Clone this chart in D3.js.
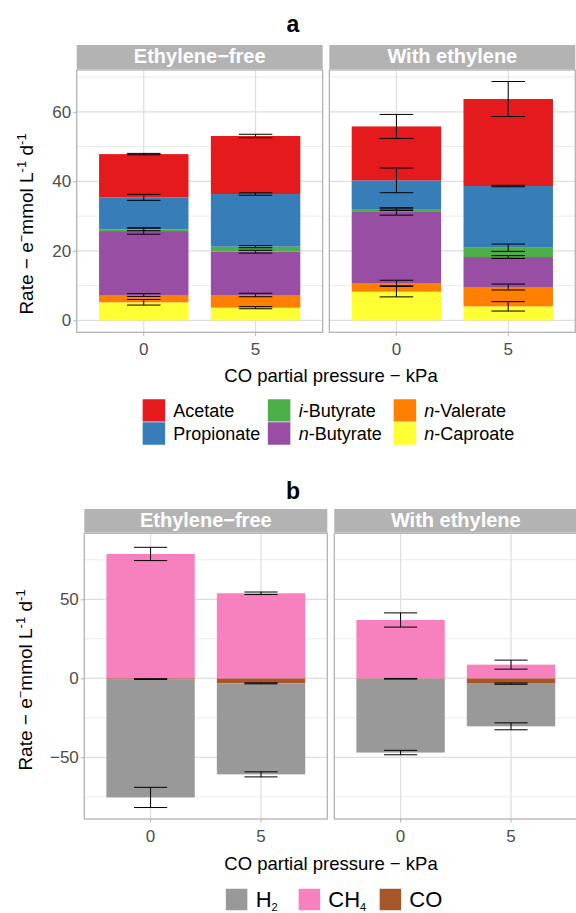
<!DOCTYPE html>
<html>
<head>
<meta charset="utf-8">
<script src="https://cdn.jsdelivr.net/npm/d3@7"></script>
<style>
    body { margin: 0; background: #fff; }
    svg text { font-family: "Liberation Sans", Arial, sans-serif; }
</style>
</head>
<body>
<svg id="chart" width="576" height="913"></svg>
<script>
    // facets and x categories
    let conditions = ["Ethylene−free", "With ethylene"];
    let pressures = ["0", "5"];

    // panel a, order of values: free 0, free 5, ethylene 0, ethylene 5
    let caproate = [5.19, 3.64, 8.25, 4.03];
    let valerate = [2.10, 3.65, 2.49, 5.56];
    let nButyrate = [18.4, 12.47, 20.43, 8.63];
    let iButyrate = [0.5, 1.44, 0.86, 2.68];
    let propionate = [9.2, 15.15, 8.25, 17.75];
    let acetate = [12.45, 16.7, 15.52, 25.04];

    let caproateSd = [0.8, 0.3, 1.5, 1.35];
    let valerateSd = [0.4, 0.5, 0.8, 0.85];
    let nButyrateSd = [0.9, 0.4, 0.9, 0.4];
    let iButyrateSd = [0.4, 0.3, 0.4, 1.05];
    let propionateSd = [0.86, 0.35, 3.55, 0.2];
    let acetateSd = [0.2, 0.5, 3.45, 5.04];

    // panel b
    let h2 = [-74.9, -57.6, -46.7, -27.0];
    let ch4 = [78.7, 53.8, 36.9, 8.65];
    let co = [-0.5, -3.2, -0.3, -3.4];
    let h2Sd = [6.4, 1.6, 1.4, 2.2];
    let ch4Sd = [4.2, 0.8, 4.5, 2.85];
    let coSd = [0.2, 0.3, 0.2, 0.4];

    let acidKeys = ["n-Caproate", "n-Valerate", "n-Butyrate", "i-Butyrate", "Propionate", "Acetate"];
    let acidColors = ["#FFFF33", "#FF7F00", "#984EA3", "#4DAF4A", "#377EB8", "#E41A1C"];
    let acidLegend = ["Acetate", "Propionate", "i-Butyrate", "n-Butyrate", "n-Valerate", "n-Caproate"];

    let gasKeys = ["CO", "H2", "CH4"];
    let gasColors = ["#A65628", "#999999", "#F781BF"];
    let gasLegend = ["H2", "CH4", "CO"];

    let acidTicks = [0, 20, 40, 60];
    let acidMinor = [10, 30, 50, 70];
    let gasTicks = [-50, 0, 50];
    let gasMinor = [-75, -25, 25, 75];

    let svg = d3.select("#chart");

    function makeRows(keys, means, sds) {
        return d3.range(4).map(i => {
            let row = {condition: conditions[Math.floor(i / 2)], pressure: pressures[i % 2], sd: {}};
            keys.forEach((k, j) => {
                row[k] = means[j][i];
                row.sd[k] = sds[j][i];
            });
            return row;
        });
    }

    function drawPanel(p) {
        let panelW = (p.right - p.left - p.gap) / 2;
        let y = d3.scaleLinear().domain(p.yDomain).range([p.bottom, p.top]);
        let x = d3.scaleBand().domain(pressures).range([0, panelW]).padding(0.2);
        let color = d3.scaleOrdinal().domain(p.keys).range(p.colors);

        let series = d3.stack()
            .keys(p.keys)
            .offset(d3.stackOffsetDiverging)(p.rows);

        let fmt = v => v < 0 ? "−" + Math.abs(v) : "" + v;

        conditions.forEach((cond, ci) => {
            let x0 = p.left + ci * (panelW + p.gap);
            let g = svg.append("g").attr("transform", "translate(" + x0 + ",0)");

            // strip
            g.append("rect")
                .attr("x", 0).attr("y", p.stripTop)
                .attr("width", panelW).attr("height", p.top - p.stripTop - 0.7)
                .attr("fill", "#B3B3B3");
            g.append("text")
                .attr("x", panelW / 2).attr("y", p.stripTop + 18)
                .attr("text-anchor", "middle")
                .attr("fill", "white")
                .style("font-size", "20px")
                .style("font-weight", "bold")
                .text(cond);

            // grid
            g.selectAll(".minor")
                .data(p.minor)
                .enter().append("line")
                .attr("x1", 0).attr("x2", panelW)
                .attr("y1", d => y(d)).attr("y2", d => y(d))
                .attr("stroke", "#E6E6E6").attr("stroke-width", 0.8);
            g.selectAll(".major")
                .data(p.ticks)
                .enter().append("line")
                .attr("x1", 0).attr("x2", panelW)
                .attr("y1", d => y(d)).attr("y2", d => y(d))
                .attr("stroke", "#DEDEDE").attr("stroke-width", 1.2);
            g.selectAll(".vgrid")
                .data(pressures)
                .enter().append("line")
                .attr("x1", d => x(d) + x.bandwidth() / 2).attr("x2", d => x(d) + x.bandwidth() / 2)
                .attr("y1", p.top).attr("y2", p.bottom)
                .attr("stroke", "#DEDEDE").attr("stroke-width", 1.2);

            // bars
            series.forEach(s => {
                g.selectAll(null)
                    .data(s.filter(d => d.data.condition == cond))
                    .enter().append("rect")
                    .attr("x", d => x(d.data.pressure))
                    .attr("width", x.bandwidth())
                    .attr("y", d => y(d[1]))
                    .attr("height", d => y(d[0]) - y(d[1]))
                    .attr("fill", color(s.key));
            });

            // error bars at the outer end of every segment
            let capW = x.step() * 0.3;
            series.forEach(s => {
                let eb = g.selectAll(null)
                    .data(s.filter(d => d.data.condition == cond))
                    .enter().append("g")
                    .attr("stroke", "black").attr("stroke-width", 1);
                let end = d => d.data[s.key] < 0 ? d[0] : d[1];
                let cx = d => x(d.data.pressure) + x.bandwidth() / 2;
                eb.append("line")
                    .attr("x1", cx).attr("x2", cx)
                    .attr("y1", d => y(end(d) - d.data.sd[s.key]))
                    .attr("y2", d => y(end(d) + d.data.sd[s.key]));
                [-1, 1].forEach(sign => {
                    eb.append("line")
                        .attr("x1", d => cx(d) - capW / 2).attr("x2", d => cx(d) + capW / 2)
                        .attr("y1", d => y(end(d) + sign * d.data.sd[s.key]))
                        .attr("y2", d => y(end(d) + sign * d.data.sd[s.key]));
                });
            });

            // border
            g.append("rect")
                .attr("x", 0).attr("y", p.top)
                .attr("width", panelW).attr("height", p.bottom - p.top)
                .attr("fill", "none").attr("stroke", "#B3B3B3").attr("stroke-width", 1.3);

            // x axis
            let xa = g.append("g")
                .attr("transform", "translate(0," + p.bottom + ")")
                .call(d3.axisBottom(x).tickSize(3.5).tickPadding(7));
            xa.select(".domain").remove();
            xa.selectAll("line").attr("stroke", "#B3B3B3");
            xa.selectAll("text").attr("fill", "#4D4D4D").style("font-size", "17px");

            if (ci == 0) {
                let ya = g.append("g")
                    .call(d3.axisLeft(y).tickValues(p.ticks).tickFormat(fmt).tickSize(3.5).tickPadding(2));
                ya.select(".domain").remove();
                ya.selectAll("line").attr("stroke", "#B3B3B3");
                ya.selectAll("text").attr("fill", "#4D4D4D").style("font-size", "17px");
            }
        });

        // panel letter
        svg.append("text")
            .attr("x", 293).attr("y", p.letterY)
            .attr("text-anchor", "middle")
            .style("font-size", "23px").style("font-weight", "bold")
            .text(p.letter);

        // axis titles
        svg.append("text")
            .attr("x", 331).attr("y", p.xTitleY)
            .attr("text-anchor", "middle")
            .style("font-size", "18.5px")
            .text("CO partial pressure − kPa");

        let t = svg.append("text")
            .attr("transform", "translate(" + p.yTitleX + "," + p.yTitleMid + ") rotate(-90)")
            .attr("text-anchor", "middle")
            .style("font-size", "19px");
        t.append("tspan").text("Rate − e");
        t.append("tspan").attr("dy", -7).style("font-size", "13px").text("−");
        t.append("tspan").attr("dy", 7).text("mmol L");
        t.append("tspan").attr("dy", -7).style("font-size", "13px").text("-1");
        t.append("tspan").attr("dy", 7).text(" d");
        t.append("tspan").attr("dy", -7).style("font-size", "13px").text("-1");
    }

    function drawAcidLegend() {
        let colX = [142.3, 267.7, 393.3];
        let top = 399, key = 23;
        let color = d3.scaleOrdinal().domain(acidKeys).range(acidColors);
        let items = svg.selectAll(".acidlegend")
            .data(acidLegend)
            .enter().append("g")
            .attr("transform", (d, i) => "translate(" + colX[Math.floor(i / 2)] + "," + (top + (i % 2) * key) + ")");
        items.append("rect")
            .attr("width", key).attr("height", key)
            .attr("fill", d => color(d))
            .attr("stroke", "white").attr("stroke-width", 0.5);
        let txt = items.append("text")
            .attr("x", key + 8).attr("y", key / 2 + 6.5)
            .style("font-size", "18px");
        txt.each(function(d) {
            let m = d.match(/^([in])-(.*)$/);
            let el = d3.select(this);
            if (m) {
                el.append("tspan").style("font-style", "italic").text(m[1]);
                el.append("tspan").text("-" + m[2]);
            } else {
                el.text(d);
            }
        });
    }

    function drawGasLegend() {
        let keyX = [225.7, 298.3, 379.3];
        let top = 888.5, key = 22;
        let color = d3.scaleOrdinal().domain(gasKeys).range(gasColors);
        let items = svg.selectAll(".gaslegend")
            .data(gasLegend)
            .enter().append("g")
            .attr("transform", (d, i) => "translate(" + keyX[i] + "," + top + ")");
        items.append("rect")
            .attr("width", key).attr("height", key)
            .attr("fill", d => color(d))
            .attr("stroke", "white").attr("stroke-width", 0.5);
        let txt = items.append("text")
            .attr("x", key + 8).attr("y", key / 2 + 7.5)
            .style("font-size", "22px");
        txt.each(function(d) {
            let m = d.match(/^([A-Z]+)(\d)$/);
            let el = d3.select(this);
            if (m) {
                el.append("tspan").text(m[1]);
                el.append("tspan").attr("dy", 3.5).style("font-size", "11px").text(m[2]);
            } else {
                el.text(d);
            }
        });
    }

    drawPanel({
        letter: "a", letterY: 31.5,
        stripTop: 45, top: 70, bottom: 332.3, left: 76.7, right: 575.3, gap: 6.7,
        yDomain: [-3.44, 72.04], ticks: acidTicks, minor: acidMinor,
        keys: acidKeys, colors: acidColors,
        rows: makeRows(acidKeys,
            [caproate, valerate, nButyrate, iButyrate, propionate, acetate],
            [caproateSd, valerateSd, nButyrateSd, iButyrateSd, propionateSd, acetateSd]),
        xTitleY: 381.7, yTitleX: 33, yTitleMid: 224
    });

    drawPanel({
        letter: "b", letterY: 499,
        stripTop: 509, top: 533.3, bottom: 819, left: 84.3, right: 577.3, gap: 7,
        yDomain: [-89.05, 91.77], ticks: gasTicks, minor: gasMinor,
        keys: gasKeys, colors: gasColors,
        rows: makeRows(gasKeys, [co, h2, ch4], [coSd, h2Sd, ch4Sd]),
        xTitleY: 870, yTitleX: 32, yTitleMid: 680
    });

    drawAcidLegend();
    drawGasLegend();
</script>
</body>
</html>
